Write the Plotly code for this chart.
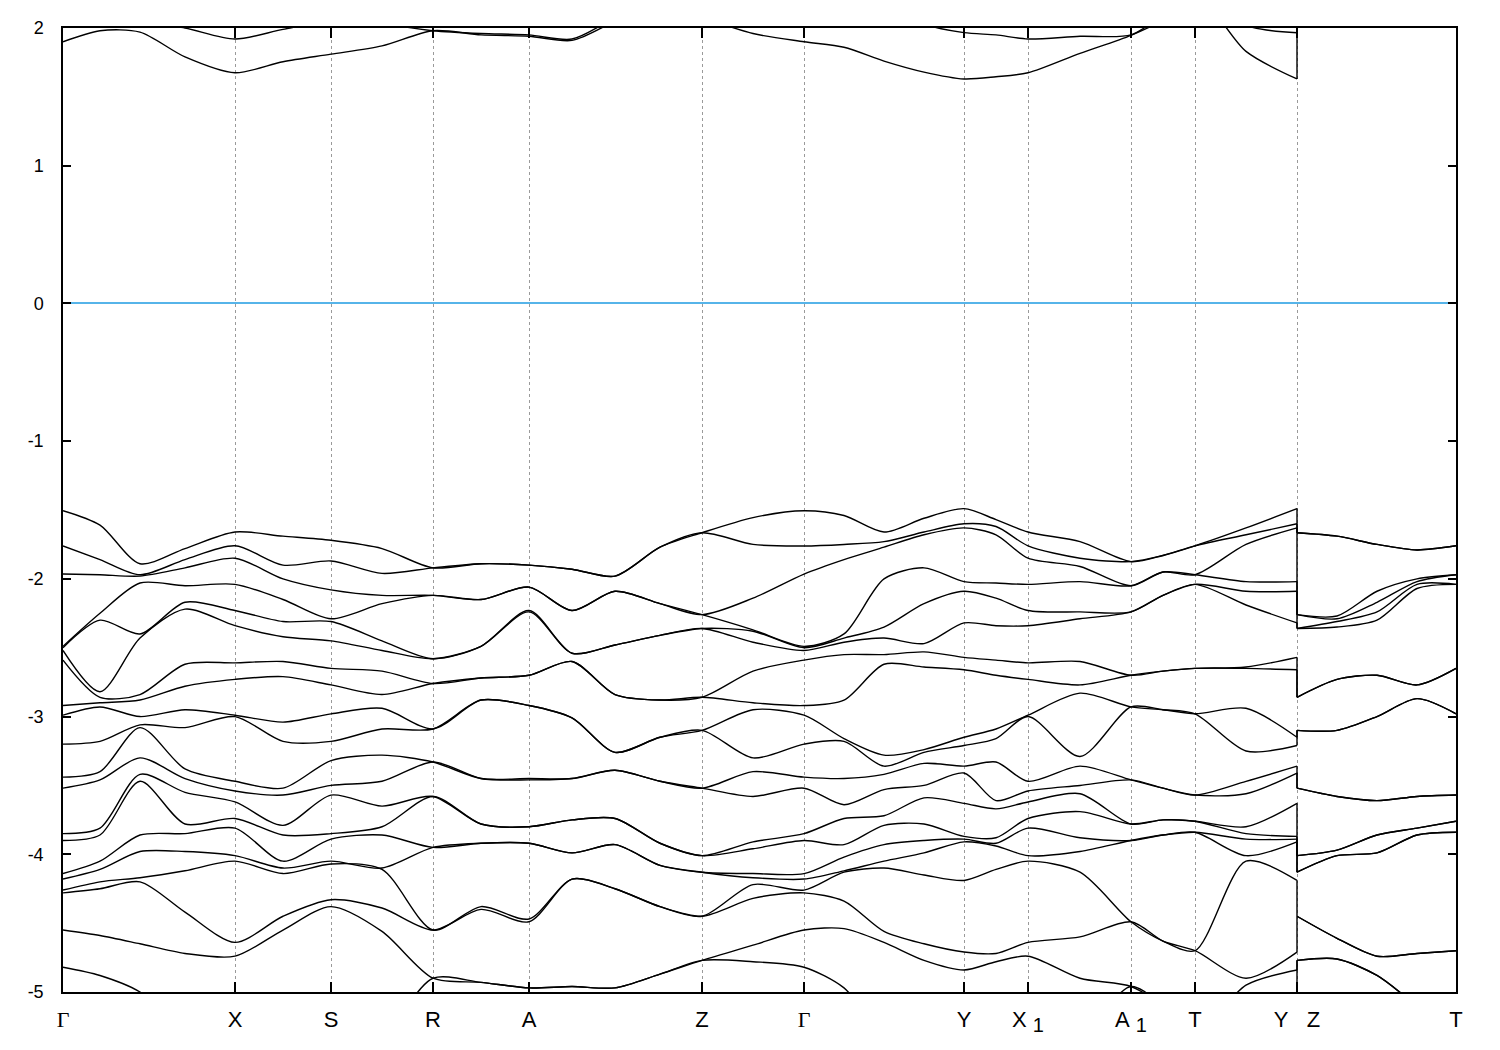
import plotly.graph_objects as go

# ---- k-path (path length, arbitrary units) ----
k_sym = [0.000, 0.172, 0.268, 0.370, 0.466, 0.639, 0.741, 0.901, 0.965, 1.068, 1.132, 1.234, 1.393]
sym_labels = ['<span style="font-family:Liberation Serif">Γ</span>', "X", "S", "R", "A", "Z",
              '<span style="font-family:Liberation Serif">Γ</span>', "Y",
              'X\u00a0<sub><span style="font-size:20px">1</span></sub>',
              'A\u00a0<sub><span style="font-size:20px">1</span></sub>',
              "T", "Y\u00a0\u00a0\u00a0Z", "T"]

k_left = [0.000, 0.037, 0.077, 0.122, 0.172, 0.220, 0.268, 0.319, 0.370, 0.418, 0.466,
          0.509, 0.552, 0.597, 0.639, 0.690, 0.741, 0.781, 0.821, 0.861, 0.901, 0.933,
          0.965, 1.017, 1.068, 1.100, 1.132, 1.183, 1.234]
k_right = [1.234, 1.274, 1.314, 1.354, 1.393]

# ---- valence energies (eV) at each k knot, sorted high -> low ----
e_G    = [-1.505, -1.761, -1.965, -2.49, -2.50, -2.52, -2.59, -2.92, -2.99, -3.20, -3.44, -3.52, -3.85, -3.90, -4.14, -4.18, -4.26, -4.28, -4.55, -4.82]
e_GX1  = [-1.61, -1.86, -1.97, -2.25, -2.30, -2.82, -2.86, -2.90, -2.93, -3.18, -3.40, -3.46, -3.81, -3.86, -4.05, -4.11, -4.20, -4.25, -4.59, -4.88]
e_GX2  = [-1.89, -1.97, -1.98, -2.03, -2.40, -2.43, -2.84, -2.88, -3.00, -3.06, -3.08, -3.30, -3.42, -3.47, -3.86, -3.98, -4.17, -4.20, -4.65, -5.00]
e_GX3  = [-1.78, -1.86, -1.92, -2.05, -2.17, -2.22, -2.62, -2.78, -2.95, -3.08, -3.38, -3.45, -3.55, -3.78, -3.85, -3.98, -4.12, -4.42, -4.72, -5.30]
e_X    = [-1.66, -1.76, -1.85, -2.04, -2.23, -2.34, -2.61, -2.73, -2.99, -3.00, -3.47, -3.54, -3.62, -3.74, -3.81, -4.01, -4.05, -4.64, -4.74, -5.30]
e_XS   = [-1.69, -1.90, -2.00, -2.15, -2.31, -2.42, -2.60, -2.71, -3.04, -3.18, -3.52, -3.57, -3.79, -3.86, -4.05, -4.10, -4.14, -4.45, -4.55, -5.30]
e_S    = [-1.72, -1.87, -2.08, -2.29, -2.31, -2.45, -2.65, -2.77, -2.98, -3.18, -3.32, -3.50, -3.57, -3.85, -3.89, -4.05, -4.07, -4.33, -4.38, -5.30]
e_SR   = [-1.78, -1.96, -2.12, -2.18, -2.45, -2.52, -2.67, -2.84, -2.94, -3.09, -3.28, -3.47, -3.65, -3.80, -3.86, -4.10, -4.11, -4.39, -4.56, -5.30]
e_R    = [-1.92, -1.92, -2.12, -2.12, -2.58, -2.58, -2.76, -2.76, -3.09, -3.09, -3.33, -3.33, -3.58, -3.58, -3.95, -3.95, -4.55, -4.55, -4.90, -4.90]
e_RA   = [-1.89, -1.89, -2.15, -2.15, -2.49, -2.49, -2.72, -2.72, -2.88, -2.88, -3.45, -3.45, -3.78, -3.78, -3.92, -3.92, -4.38, -4.40, -4.93, -4.93]
e_A    = [-1.90, -1.90, -2.06, -2.06, -2.23, -2.24, -2.70, -2.70, -2.92, -2.92, -3.45, -3.46, -3.80, -3.80, -3.92, -3.92, -4.47, -4.49, -4.97, -4.97]
e_AZ1  = [-1.93, -1.93, -2.23, -2.23, -2.54, -2.54, -2.60, -2.60, -3.01, -3.01, -3.45, -3.45, -3.75, -3.75, -3.99, -3.99, -4.18, -4.18, -4.96, -4.96]
e_AZ2  = [-1.98, -1.98, -2.09, -2.09, -2.48, -2.48, -2.84, -2.84, -3.26, -3.26, -3.39, -3.39, -3.74, -3.74, -3.93, -3.93, -4.25, -4.25, -4.97, -4.97]
e_AZ3  = [-1.77, -1.77, -2.18, -2.18, -2.41, -2.41, -2.88, -2.88, -3.15, -3.15, -3.47, -3.47, -3.92, -3.92, -4.08, -4.08, -4.38, -4.38, -4.87, -4.87]
e_Z    = [-1.665, -1.665, -2.26, -2.26, -2.36, -2.36, -2.86, -2.86, -3.10, -3.10, -3.52, -3.52, -4.01, -4.01, -4.13, -4.13, -4.45, -4.45, -4.77, -4.77]
e_ZG   = [-1.555, -1.75, -2.14, -2.37, -2.38, -2.46, -2.67, -2.90, -2.95, -3.30, -3.40, -3.58, -3.91, -3.96, -4.14, -4.17, -4.22, -4.32, -4.66, -4.78]
e_GY1  = [-1.54, -1.75, -1.86, -2.40, -2.43, -2.46, -2.55, -2.88, -3.16, -3.18, -3.45, -3.64, -3.74, -3.93, -4.02, -4.12, -4.13, -4.34, -4.54, -4.97]
e_GY2  = [-1.66, -1.73, -1.77, -2.00, -2.35, -2.43, -2.55, -2.62, -3.28, -3.36, -3.42, -3.53, -3.72, -3.79, -3.93, -4.05, -4.10, -4.56, -4.64, -5.30]
e_GY3  = [-1.56, -1.66, -1.68, -1.92, -2.18, -2.47, -2.53, -2.64, -3.24, -3.26, -3.34, -3.50, -3.59, -3.78, -3.90, -3.99, -4.15, -4.65, -4.77, -5.30]
e_Y    = [-1.49, -1.60, -1.63, -2.02, -2.09, -2.32, -2.57, -2.66, -3.15, -3.21, -3.36, -3.41, -3.63, -3.87, -3.89, -3.91, -4.19, -4.71, -4.84, -5.30]
e_YX1  = [-1.57, -1.62, -1.68, -2.03, -2.14, -2.34, -2.59, -2.70, -3.09, -3.16, -3.33, -3.61, -3.67, -3.88, -3.92, -3.94, -4.11, -4.72, -4.78, -5.30]
e_X1   = [-1.66, -1.76, -1.85, -2.04, -2.23, -2.34, -2.61, -2.73, -2.99, -3.00, -3.47, -3.54, -3.62, -3.74, -3.81, -4.01, -4.05, -4.64, -4.74, -5.30]
e_X1A1 = [-1.73, -1.85, -1.91, -2.02, -2.24, -2.29, -2.60, -2.77, -2.83, -3.29, -3.36, -3.50, -3.56, -3.69, -3.88, -3.98, -4.13, -4.60, -4.90, -5.30]
e_A1   = [-1.875, -1.875, -2.05, -2.05, -2.24, -2.24, -2.70, -2.70, -2.93, -2.93, -3.46, -3.46, -3.78, -3.78, -3.90, -3.90, -4.49, -4.49, -4.96, -4.96]
e_A1T  = [-1.83, -1.83, -1.95, -1.95, -2.12, -2.12, -2.67, -2.67, -2.95, -2.95, -3.52, -3.52, -3.75, -3.75, -3.86, -3.86, -4.63, -4.63, -5.10, -5.10]
e_T    = [-1.76, -1.76, -1.97, -1.97, -2.04, -2.04, -2.65, -2.65, -2.98, -2.98, -3.57, -3.57, -3.76, -3.76, -3.84, -3.84, -4.70, -4.70, -5.30, -5.30]
e_TY   = [-1.63, -1.68, -1.75, -2.02, -2.09, -2.19, -2.64, -2.65, -2.94, -3.25, -3.47, -3.56, -3.80, -3.85, -3.89, -4.01, -4.05, -4.90, -4.95, -5.30]
e_ZT1  = [-1.69, -1.69, -2.27, -2.29, -2.31, -2.35, -2.73, -2.73, -3.10, -3.10, -3.58, -3.58, -3.97, -3.97, -4.01, -4.01, -4.61, -4.61, -4.76, -4.76]
e_ZT2  = [-1.75, -1.75, -2.09, -2.17, -2.24, -2.30, -2.70, -2.70, -3.00, -3.00, -3.61, -3.61, -3.86, -3.86, -3.99, -3.99, -4.74, -4.74, -4.88, -4.88]
e_ZT3  = [-1.79, -1.79, -2.00, -2.02, -2.04, -2.07, -2.77, -2.77, -2.87, -2.87, -3.58, -3.58, -3.81, -3.81, -3.86, -3.86, -4.72, -4.72, -5.10, -5.10]

# ---- conduction bands (eV) ----
cb1_left = [1.90, 1.98, 1.97, 1.79, 1.675, 1.755, 1.81, 1.87, 1.98, 1.95, 1.94, 1.91, 2.05, 2.20,
            2.08, 1.96, 1.90, 1.86, 1.76, 1.68, 1.63, 1.646, 1.675, 1.816, 1.947, 2.06, 2.25, 1.83, 1.63]
cb2_left = [2.25, 2.10, 2.05, 2.00, 1.92, 1.99, 2.05, 2.03, 1.98, 1.96, 1.95, 1.92, 2.08, 2.30,
            2.35, 2.20, 2.25, 2.30, 2.20, 2.03, 1.966, 1.95, 1.92, 1.94, 1.95, 2.10, 2.30, 2.02, 1.966]
cb1_right = [2.30, 2.30, 2.30, 2.30, 2.30]
cb2_right = [2.40, 2.40, 2.40, 2.40, 2.40]

y_ticks = [-5, -4, -3, -2, -1, 0, 1, 2]
y_ticktext = ["-5", "-4", "-3", "-2", "-1", "0", "1", "2"]

left_knots = [e_G, e_GX1, e_GX2, e_GX3, e_X, e_XS, e_S, e_SR, e_R, e_RA, e_A, e_AZ1, e_AZ2, e_AZ3,
              e_Z, e_ZG, e_G, e_GY1, e_GY2, e_GY3, e_Y, e_YX1, e_X1, e_X1A1, e_A1, e_A1T, e_T, e_TY, e_Y]
right_knots = [e_Z, e_ZT1, e_ZT2, e_ZT3, e_T]

bands_left = [[row[i] for row in left_knots] for i in range(len(e_G))]
bands_right = [[row[i] for row in right_knots] for i in range(len(e_G))]
bands_left += [cb1_left, cb2_left]
bands_right += [cb1_right, cb2_right]

fig = go.Figure()
line_style = dict(color="black", width=1.4, shape="spline", smoothing=0.8)
jx, jy = [], []
for bl, br in zip(bands_left, bands_right):
    fig.add_trace(go.Scatter(x=k_left + [None] + k_right, y=bl + [None] + br,
                             mode="lines", line=line_style, showlegend=False,
                             hoverinfo="skip", connectgaps=False))
    jx += [k_left[-1], k_right[0], None]
    jy += [bl[-1], br[0], None]
fig.add_trace(go.Scatter(x=jx, y=jy, mode="lines", line=dict(color="black", width=1.4),
                         showlegend=False, hoverinfo="skip"))

fig.update_layout(
    width=1500, height=1050,
    margin=dict(l=55, r=52, t=20, b=66),
    paper_bgcolor="white", plot_bgcolor="white",
    font=dict(family="Liberation Sans, Arial, sans-serif", size=21, color="black"),
)
fig.update_xaxes(range=[k_sym[0], k_sym[-1]], tickvals=k_sym, ticktext=sym_labels,
                 showgrid=True, gridcolor="#9a9a9a", griddash="3px,3px", gridwidth=1,
                 zeroline=False, showline=True, linecolor="black", linewidth=1.5,
                 mirror="ticks", ticks="inside", ticklen=10, tickcolor="black",
                 tickwidth=1.5, ticklabelstandoff=7, tickfont=dict(size=22),
                 automargin=False)
fig.update_yaxes(range=[-5, 2], tickvals=y_ticks, ticktext=y_ticktext,
                 showgrid=False, zeroline=True, zerolinecolor="#56b4e9", zerolinewidth=1.5,
                 showline=True, linecolor="black", linewidth=1.5, mirror="ticks",
                 ticks="inside", ticklen=8, tickcolor="black", tickwidth=1.5,
                 ticklabelstandoff=14, tickfont=dict(size=18), automargin=False)

fig.write_html("out.html")
